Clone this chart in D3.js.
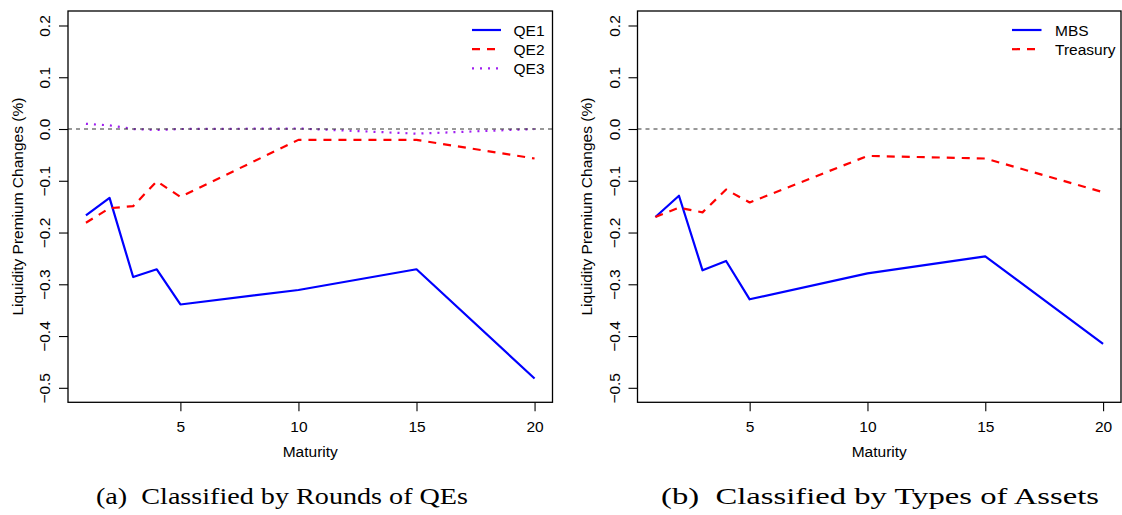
<!DOCTYPE html>
<html>
<head>
<meta charset="utf-8">
<script src="https://cdn.jsdelivr.net/npm/d3@7"></script>
<style>
  html, body { margin: 0; padding: 0; background: #fff; }
  svg { display: block; }
</style>
</head>
<body>
<svg id="fig" width="1122" height="515"></svg>
<script>
// Maturities (years) shared by every series
const maturities = [1, 2, 3, 4, 5, 10, 15, 20];

// Panel (a): liquidity premium changes by QE round (%)
const qe1 = [-0.167, -0.133, -0.286, -0.271, -0.339, -0.311, -0.271, -0.482];
const qe2 = [-0.181, -0.153, -0.149, -0.101, -0.131, -0.021, -0.021, -0.057];
const qe3 = [0.010, 0.007, 0.000, -0.002, 0.000, 0.001, -0.009, 0.000];

// Panel (b): liquidity premium changes by asset type (%)
const mbs = [-0.170, -0.129, -0.273, -0.255, -0.329, -0.279, -0.246, -0.415];
const treasury = [-0.170, -0.152, -0.161, -0.117, -0.142, -0.052, -0.057, -0.122];

// Axis ticks and labels
const xTicks = [5, 10, 15, 20];
const yTicks = [-0.5, -0.4, -0.3, -0.2, -0.1, 0.0, 0.1, 0.2];
const xTitle = "Maturity";
const yTitle = "Liquidity Premium Changes (%)";

const panels = [
  {
    left: 68, right: 552.5,
    caption: "(a)\u2002Classified by Rounds of QEs", capX: 96, capW: 372,
    series: [
      { name: "QE1", values: qe1, color: "#0000FF", dash: null },
      { name: "QE2", values: qe2, color: "#FF0000", dash: "8,7" },
      { name: "QE3", values: qe3, color: "#A020F0", dash: "2,6" }
    ],
    legendLine: [472, 501], legendText: 513.5
  },
  {
    left: 637.5, right: 1121,
    caption: "(b)\u2002Classified by Types of Assets", capX: 661, capW: 438,
    series: [
      { name: "MBS", values: mbs, color: "#0000FF", dash: null },
      { name: "Treasury", values: treasury, color: "#FF0000", dash: "8,7" }
    ],
    legendLine: [1012, 1041.5], legendText: 1055
  }
];

const svg = d3.select("#fig");
const plotTop = 11, plotBottom = 402.3;
const FONT = "'Liberation Sans', Arial, Helvetica, sans-serif";

// R-style 4% padding around the data ranges
const xPad = (20 - 1) * 0.04;
const yLo = -0.5, yHi = 0.2, yPad = (yHi - yLo) * 0.04;
const y = d3.scaleLinear().domain([yLo - yPad, yHi + yPad]).range([plotBottom, plotTop]);

panels.forEach(p => {
  const x = d3.scaleLinear().domain([1 - xPad, 20 + xPad]).range([p.left, p.right]);
  const g = svg.append("g");

  // data lines
  p.series.forEach(s => {
    const line = d3.line().x((d, i) => x(maturities[i])).y(d => y(d));
    g.append("path")
      .datum(s.values)
      .attr("d", line)
      .attr("fill", "none")
      .attr("stroke", s.color)
      .attr("stroke-width", 2.2)
      .attr("stroke-linejoin", "round")
      .attr("stroke-dasharray", s.dash);
  });

  // horizontal reference at zero
  g.append("line")
    .attr("x1", p.left).attr("x2", p.right)
    .attr("y1", y(0)).attr("y2", y(0))
    .attr("stroke", "#333").attr("stroke-width", 1.1)
    .attr("stroke-dasharray", "4,4");

  // bottom axis
  const xAxis = g.append("g")
    .attr("transform", `translate(0,${plotBottom})`)
    .call(d3.axisBottom(x).tickValues(xTicks).tickSize(9).tickFormat(d3.format("d")));
  xAxis.select(".domain").remove();
  xAxis.selectAll("line").attr("stroke", "#000").attr("stroke-width", 1.1);
  xAxis.selectAll("text")
    .attr("y", 29.7).attr("dy", null)
    .attr("font-family", FONT).attr("font-size", 15.5).attr("fill", "#000");

  // left axis with rotated labels
  const yAxis = g.append("g")
    .attr("transform", `translate(${p.left},0)`)
    .call(d3.axisLeft(y).tickValues(yTicks).tickSize(9).tickFormat(d3.format(".1f")));
  yAxis.select(".domain").remove();
  yAxis.selectAll("line").attr("stroke", "#000").attr("stroke-width", 1.1);
  yAxis.selectAll("text")
    .attr("x", 0).attr("y", -18).attr("dy", null)
    .attr("transform", "rotate(-90)")
    .attr("text-anchor", "middle")
    .attr("font-family", FONT).attr("font-size", 15.5).attr("fill", "#000");

  // plot frame
  g.append("rect")
    .attr("x", p.left).attr("y", plotTop)
    .attr("width", p.right - p.left).attr("height", plotBottom - plotTop)
    .attr("fill", "none").attr("stroke", "#000").attr("stroke-width", 1.3);

  // axis titles
  g.append("text")
    .attr("x", (p.left + p.right) / 2).attr("y", 457)
    .attr("text-anchor", "middle")
    .attr("font-family", FONT).attr("font-size", 15.5)
    .text(xTitle);
  g.append("text")
    .attr("transform", `translate(${p.left - 45.5},${(plotTop + plotBottom) / 2}) rotate(-90)`)
    .attr("text-anchor", "middle")
    .attr("font-family", FONT).attr("font-size", 15.5)
    .text(yTitle);

  // legend
  const leg = g.append("g");
  p.series.forEach((s, i) => {
    const ly = 30 + i * 19.2;
    leg.append("line")
      .attr("x1", p.legendLine[0]).attr("x2", p.legendLine[1])
      .attr("y1", ly).attr("y2", ly)
      .attr("stroke", s.color).attr("stroke-width", 2.2)
      .attr("stroke-dasharray", s.dash);
    leg.append("text")
      .attr("x", p.legendText).attr("y", ly + 5.5)
      .attr("font-family", FONT).attr("font-size", 15.5)
      .text(s.name);
  });

  // sub-figure caption
  g.append("text")
    .attr("x", p.capX).attr("y", 504.3)
    .attr("font-family", "'Liberation Serif', 'DejaVu Serif', serif")
    .attr("font-size", 22.5)
    .attr("textLength", p.capW)
    .attr("lengthAdjust", "spacingAndGlyphs")
    .text(p.caption);
});
</script>
</body>
</html>
